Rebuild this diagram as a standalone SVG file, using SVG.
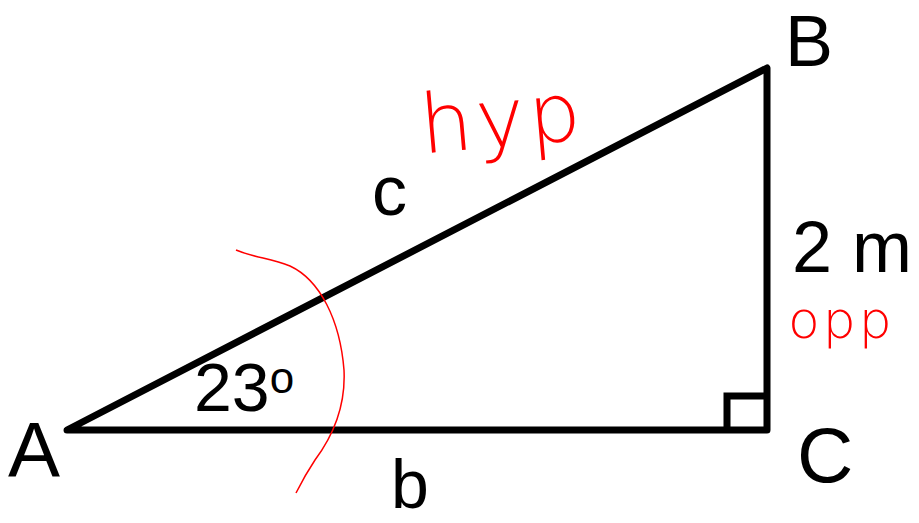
<svg xmlns="http://www.w3.org/2000/svg" width="919" height="523" viewBox="0 0 919 523">
<style>
.lbl{font-family:"Liberation Sans",Arial,sans-serif;fill:#000}
.hand{font-family:"DejaVu Sans","Liberation Sans",sans-serif;fill:#ff0000;font-weight:200}
.edge{fill:none;stroke:#000;stroke-width:7;stroke-linejoin:round;stroke-linecap:round}
</style>
<rect width="919" height="523" fill="#fff"/>
<g id="connectors">
<path class="edge" d="M67,430 L767,68 L767,430 Z"/>
<path class="edge" d="M727,430 L727,396 L767,396" style="stroke-linejoin:miter;stroke-linecap:butt"/>
<path d="M236,250 C255,258 270,258 290,266 C320,280 340,320 344,370 C346,410 330,440 315,460 C305,475 300,485 296,493" fill="none" stroke="#ff0000" stroke-width="1.5"/>
</g>
<g id="A"><text class="lbl" x="8" y="477" font-size="78">A</text></g>
<g id="B"><text class="lbl" x="785" y="66" font-size="72">B</text></g>
<g id="C"><text class="lbl" x="797" y="482" font-size="78">C</text></g>
<g id="side-c"><text class="lbl" x="372" y="215" font-size="70">c</text></g>
<g id="side-b"><text class="lbl" x="391" y="508" font-size="68">b</text></g>
<g id="side-a"><text class="lbl" x="792" y="272" font-size="72">2 m</text></g>
<g id="angle"><text class="lbl" x="194" y="411" font-size="68">23<tspan font-size="44" dy="-18">o</tspan></text></g>
<g id="hyp"><text class="hand" x="420" y="148" font-size="82" letter-spacing="4" transform="rotate(-5 485 120)">hyp</text></g>
<g id="opp"><text class="hand" x="788" y="338" font-size="52" letter-spacing="3">opp</text></g>
</svg>
